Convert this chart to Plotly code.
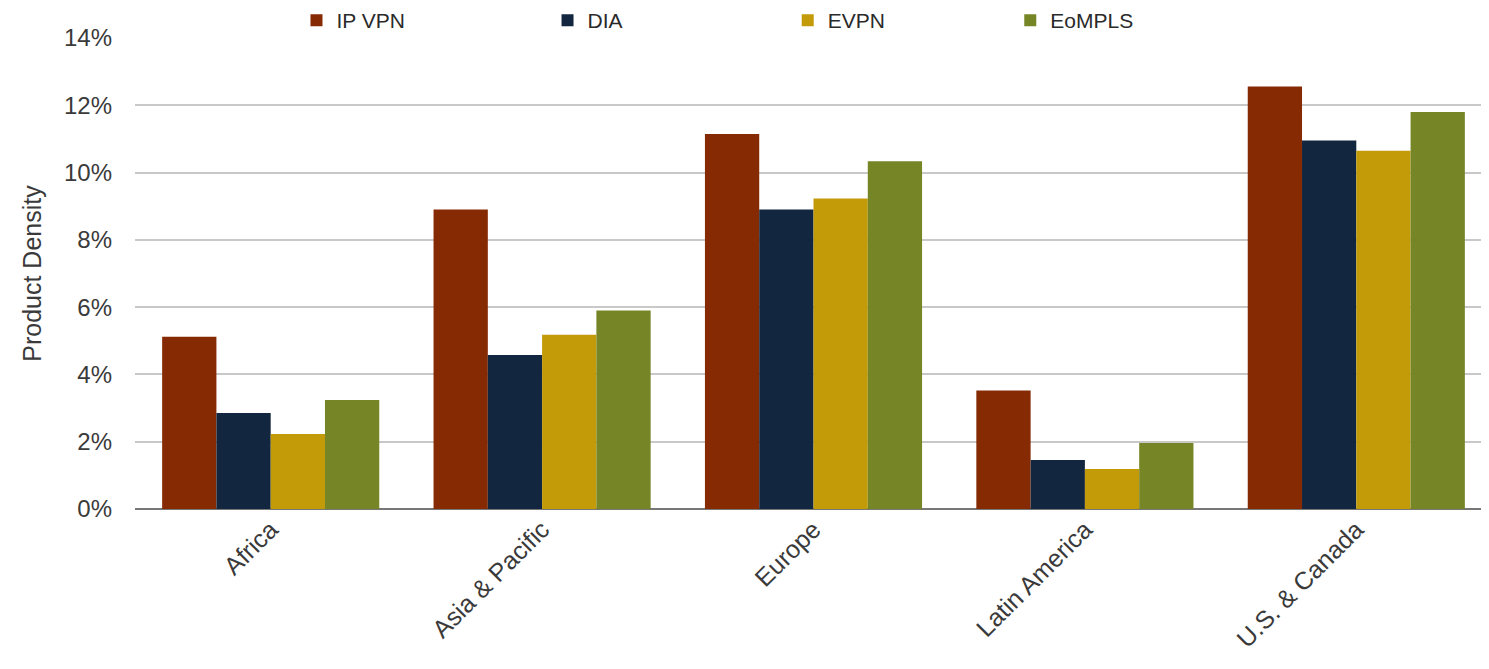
import plotly.graph_objects as go

regions = ["Africa", "Asia & Pacific", "Europe", "Latin America", "U.S. & Canada"]
ip_vpn = [5.12, 8.90, 11.15, 3.52, 12.56]
dia = [2.85, 4.58, 8.90, 1.46, 10.95]
evpn = [2.23, 5.18, 9.23, 1.19, 10.65]
eompls = [3.24, 5.90, 10.34, 1.96, 11.80]

series_names = ["IP VPN", "DIA", "EVPN", "EoMPLS"]
series_values = [ip_vpn, dia, evpn, eompls]
series_colors = ["#862a04", "#13263f", "#c39a08", "#768626"]
legend_x = [0.119, 0.304, 0.481, 0.645]
legend_ids = ["legend", "legend2", "legend3", "legend4"]

fig = go.Figure()
for name, vals, color, lid in zip(series_names, series_values, series_colors, legend_ids):
    fig.add_trace(go.Bar(
        x=regions, y=[v / 100 for v in vals], name=name,
        marker=dict(color=color, line=dict(width=0)),
        legend=lid, showlegend=True,
    ))

legend_style = dict(orientation="h", y=1.037, xanchor="left", yanchor="middle",
                    font=dict(size=21, color="#2a2a2a"), itemwidth=30,
                    bgcolor="rgba(0,0,0,0)")
legends = {lid: dict(legend_style, x=lx) for lid, lx in zip(legend_ids, legend_x)}

fig.update_layout(
    width=1489, height=669,
    showlegend=True,
    barmode="group", bargap=0.2, bargroupgap=0,
    plot_bgcolor="white", paper_bgcolor="white",
    font=dict(family="Liberation Sans, Arial, sans-serif", size=24, color="#3a3a3a"),
    margin=dict(l=127, r=5, t=30, b=168, autoexpand=False),
    xaxis=dict(tickangle=-45, showgrid=False, ticks="", showline=False,
               tickfont=dict(size=25, color="#3a3a3a")),
    yaxis=dict(range=[0, 0.14], dtick=0.02, tickformat=".0%",
               showgrid=True, gridcolor="#c8c8c8", gridwidth=2,
               zeroline=True, zerolinecolor="#777777", zerolinewidth=2,
               ticks="", ticklabelstandoff=22,
               title=dict(text="Product Density", font=dict(size=25, color="#3a3a3a"), standoff=15),
               tickfont=dict(size=24, color="#3a3a3a")),
    **legends,
)

fig.write_html("out.html")
